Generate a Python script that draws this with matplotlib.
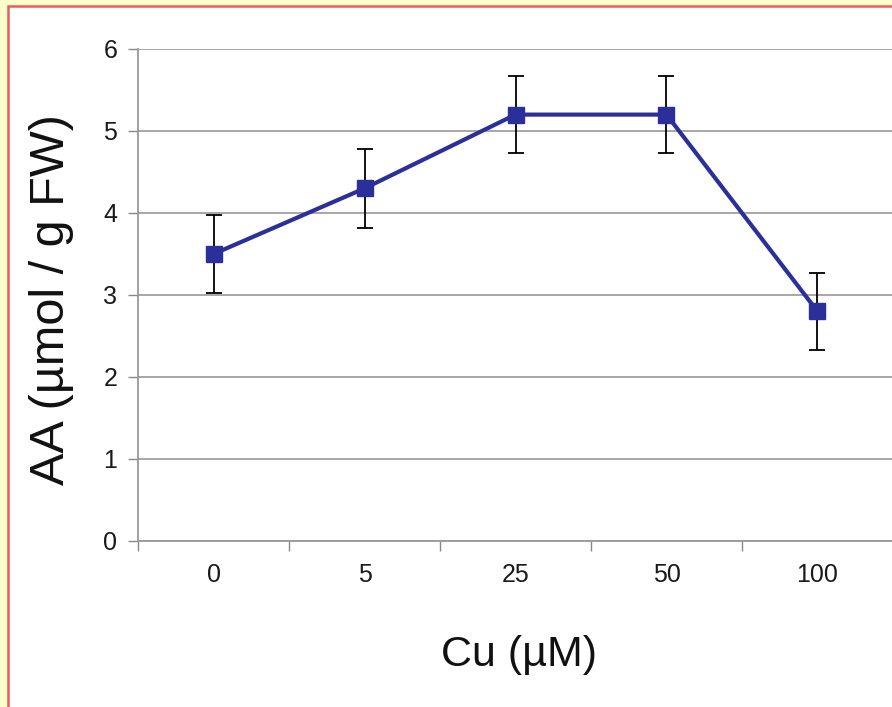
import numpy as np
import matplotlib.pyplot as plt
from matplotlib.patches import Rectangle
from matplotlib import font_manager

cu_labels = ['0', '5', '25', '50', '100']
aa_mean = [3.5, 4.3, 5.2, 5.2, 2.8]
aa_err = [0.48, 0.48, 0.47, 0.47, 0.47]

names = set(f.name for f in font_manager.fontManager.ttflist)
tick_font = 'Liberation Sans Narrow' if 'Liberation Sans Narrow' in names else 'Liberation Sans'

fig = plt.figure(figsize=(8.92, 7.07), dpi=100)
fig.patch.set_facecolor('#FFFFCC')
# white panel with red frame line (left and top visible)
fig.patches.append(Rectangle((8 / 892, -0.1), 1.1, 1 - 5.5 / 707 + 0.1, transform=fig.transFigure,
                             facecolor='white', edgecolor='#F05A5A', linewidth=1.8, zorder=-1))

ax = fig.add_axes([138 / 892, 1 - 541 / 707, 755 / 892, 492 / 707])
ax.set_zorder(2)
ax.set_facecolor('none')
x = np.arange(len(cu_labels))
ax.errorbar(x, aa_mean, yerr=aa_err, fmt='none', ecolor='black', elinewidth=1.3,
            capsize=6, capthick=1.3, zorder=3)
ax.plot(x, aa_mean, color='#2B2F9A', linewidth=3, marker='s', markersize=12,
        markerfacecolor='#2B2F9A', markeredgecolor='#2B2F9A', zorder=4)

ax.set_xlim(-0.5, 4.5)
ax.set_ylim(0, 6)
ax.set_yticks(range(7))
ax.set_xticks(x)
ax.set_xticklabels(cu_labels)
ax.set_xticks(np.arange(-0.5, 5, 1), minor=True)
ax.tick_params(axis='x', which='major', length=0, pad=16)
ax.tick_params(axis='x', which='minor', length=7, width=1, color='#888888', direction='out')
ax.tick_params(axis='y', length=7, width=1, color='#888888', pad=8)
for lab in ax.get_xticklabels() + ax.get_yticklabels():
    lab.set_fontfamily(tick_font)
    lab.set_fontsize(18)
    lab.set_color('#1a1a1a')

ax.grid(axis='y', color='#A0A0A0', linewidth=1.3)
ax.set_axisbelow(True)
for s in ['top', 'right']:
    ax.spines[s].set_visible(False)
for s in ['left', 'bottom']:
    ax.spines[s].set_color('#999999')
    ax.spines[s].set_linewidth(1.3)

fig.text(519 / 892, 1 - 655 / 707, 'Cu (µM)', fontsize=31, family='Liberation Sans',
         ha='center', va='center', color='#111111')
fig.text(52 / 892, 1 - 300 / 707, 'AA (µmol / g FW)', fontsize=35, family='Liberation Sans',
         rotation=90, ha='center', va='center', color='#111111')

fig.savefig('out.png', dpi=100, facecolor=fig.get_facecolor())
